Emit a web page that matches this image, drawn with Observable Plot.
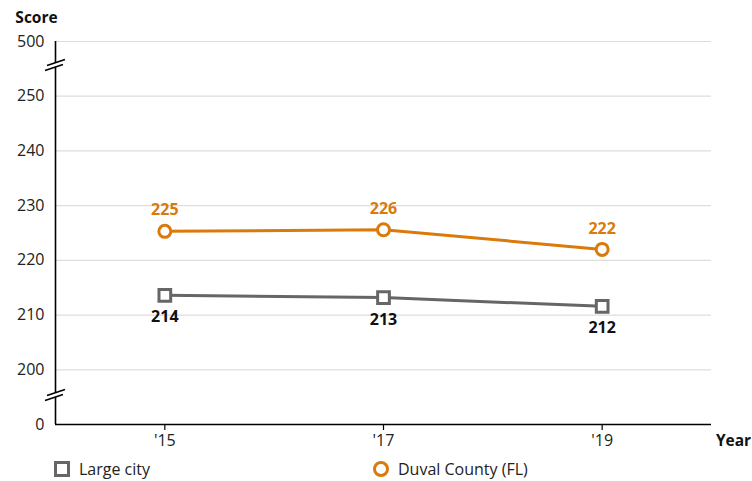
<!DOCTYPE html>
<html>
<head>
<meta charset="utf-8">
<script src="https://cdn.jsdelivr.net/npm/d3@7"></script>
<script src="https://cdn.jsdelivr.net/npm/@observablehq/plot@0.6"></script>
<style>
  body { margin: 0; background: white; font-family: "Open Sans", sans-serif; }
  #legend { position: relative; width: 752px; height: 26px; font-size: 16px; color: #222; }
  .item { position: absolute; top: 3px; display: flex; align-items: center; gap: 9px; }
  .sq { width: 10px; height: 10px; border: 3px solid #666; background: white; }
  .ci { width: 10px; height: 10px; border: 3px solid #d97a0b; border-radius: 50%; background: white; }
</style>
</head>
<body>
<div id="chart"></div>
<div id="legend">
  <div class="item" style="left:54px"><span class="sq"></span><span>Large city</span></div>
  <div class="item" style="left:373px"><span class="ci"></span><span>Duval County (FL)</span></div>
</div>
<script>
const years = [2015, 2017, 2019];
const largeCity = [213.6, 213.2, 211.6];
const duval = [225.3, 225.6, 222.0];
const largeCityLabels = ["214", "213", "212"];
const duvalLabels = ["225", "226", "222"];
// broken axis: 190 stands for 0, 260 stands for 500
const yTicks = [190, 200, 210, 220, 230, 240, 250, 260];
const yTickLabels = ["0", "200", "210", "220", "230", "240", "250", "500"];
const breaks = [195.3, 255.6];

const orange = "#d97a0b";
const gray = "#666666";

const lc = years.map((y, i) => ({year: y, v: largeCity[i], label: largeCityLabels[i]}));
const dv = years.map((y, i) => ({year: y, v: duval[i], label: duvalLabels[i]}));

const breakMark = (index, {x, y}) => {
  const g = d3.create("svg:g");
  for (const b of breaks) {
    const cx = x(2014), cy = y(b);
    g.append("path")
      .attr("d", `M${cx - 9},${cy + 5} L${cx + 9},${cy - 1} L${cx + 9},${cy - 5} L${cx - 9},${cy + 1} Z`)
      .attr("fill", "white");
    g.append("line").attr("x1", cx - 10).attr("y1", cy + 5.5).attr("x2", cx + 8).attr("y2", cy - 0.5)
      .attr("stroke", "black").attr("stroke-width", 1.5);
    g.append("line").attr("x1", cx - 8).attr("y1", cy + 0.5).attr("x2", cx + 10).attr("y2", cy - 5.5)
      .attr("stroke", "black").attr("stroke-width", 1.5);
  }
  return g.node();
};

const plot = Plot.plot({
  width: 752,
  height: 455,
  marginTop: 41,
  marginLeft: 55,
  marginRight: 41,
  marginBottom: 31,
  style: {fontFamily: "'Open Sans', sans-serif", fontSize: "16px", color: "#222", background: "white"},
  x: {domain: [2014, 2020]},
  y: {domain: [190, 260]},
  marks: [
    Plot.ruleY(yTicks.slice(1), {stroke: "#dddddd", strokeWidth: 1.2}),
    Plot.axisY({ticks: yTicks, tickFormat: d => yTickLabels[yTicks.indexOf(d)], tickSize: 0, tickPadding: 11, fontSize: 16, label: null}),
    Plot.axisX({ticks: years, tickFormat: d => "'" + String(d).slice(2), tickSize: 6, tickPadding: 4, fontSize: 16, label: null, stroke: "black", strokeWidth: 1.2}),
    Plot.ruleX([2014], {y1: 190, y2: 260, stroke: "black", strokeWidth: 1.6}),
    Plot.ruleY([190], {stroke: "black", strokeWidth: 1.6}),
    breakMark,
    Plot.line(lc, {x: "year", y: "v", stroke: gray, strokeWidth: 3}),
    Plot.line(dv, {x: "year", y: "v", stroke: orange, strokeWidth: 3}),
    Plot.dot(lc, {x: "year", y: "v", symbol: "square", r: 6.6, stroke: gray, strokeWidth: 3, fill: "white"}),
    Plot.dot(dv, {x: "year", y: "v", symbol: "circle", r: 6, stroke: orange, strokeWidth: 3, fill: "white"}),
    Plot.text(lc, {x: "year", y: "v", text: "label", dy: 22, fontSize: 16, fontWeight: "bold", fill: "#111"}),
    Plot.text(dv, {x: "year", y: "v", text: "label", dy: -21, fontSize: 16, fontWeight: "bold", fill: orange}),
    Plot.text(["Score"], {x: 2014, y: 260, dx: -19, dy: -23, fontSize: 15.5, fontWeight: "bold", fill: "#111"}),
    Plot.text(["Year"], {x: 2020, y: 190, dx: 22, dy: 17, fontSize: 15.5, fontWeight: "bold", fill: "#111"})
  ]
});
document.getElementById("chart").appendChild(plot);
</script>
</body>
</html>
